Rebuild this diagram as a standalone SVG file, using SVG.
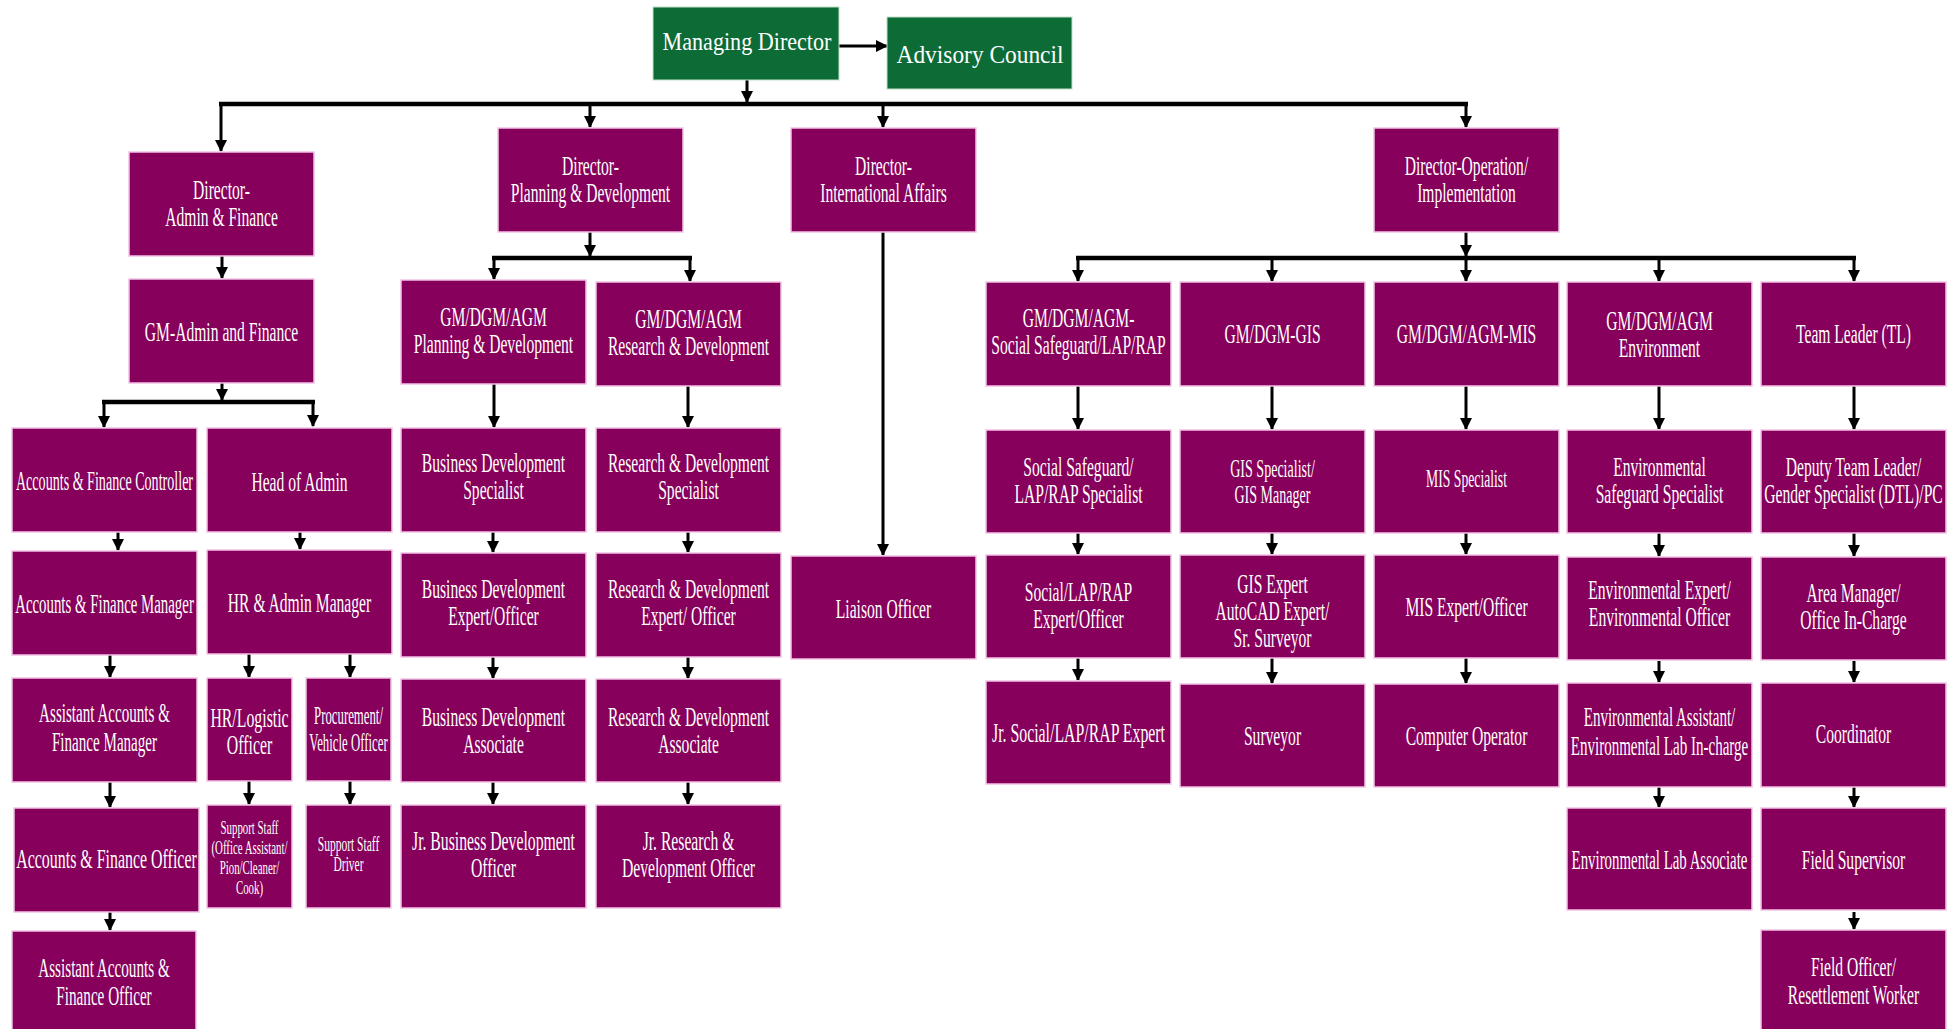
<svg xmlns="http://www.w3.org/2000/svg" width="1959" height="1029" viewBox="0 0 1959 1029">
<style>
.p{fill:#87005c;stroke:#f2c2e6;stroke-width:1.5}
.g{fill:#0d6b36;stroke:#bfe0c8;stroke-width:1}
text{font-family:"Liberation Serif","Times New Roman",serif;fill:#fff;text-anchor:middle;font-size:28px}
.tg{font-size:25px}
.s25{font-size:25px}
.s20{font-size:20px}
.s19{font-size:19px}
.c line{stroke:#000;stroke-width:3;fill:none}
.c line.a{marker-end:url(#ah)}
.c line.bar{stroke-width:4.5}
</style>
<defs>
<marker id="ah" markerUnits="userSpaceOnUse" markerWidth="12" markerHeight="12" viewBox="0 0 12 12" refX="11" refY="6" orient="auto">
<path d="M0,0 L12,6 L0,12 z" fill="#000"/>
</marker>
</defs>
<rect width="1959" height="1029" fill="#fff"/>

<g id="connectors" class="c">
<line class="a" x1="839" y1="46" x2="887" y2="46"/>
<line class="a" x1="747" y1="80" x2="747" y2="102"/>
<line class="bar" x1="219" y1="104" x2="1468" y2="104"/>
<line class="a" x1="221" y1="104" x2="221" y2="151"/>
<line class="a" x1="590" y1="104" x2="590" y2="127"/>
<line class="a" x1="883" y1="104" x2="883" y2="127"/>
<line class="a" x1="1466" y1="104" x2="1466" y2="127"/>
<line class="a" x1="222" y1="256" x2="222" y2="278"/>
<line class="a" x1="222" y1="383" x2="222" y2="400"/>
<line class="bar" x1="102" y1="402" x2="315" y2="402"/>
<line class="a" x1="104" y1="402" x2="104" y2="427"/>
<line class="a" x1="313" y1="402" x2="313" y2="426"/>
<line class="a" x1="590" y1="232" x2="590" y2="256"/>
<line class="bar" x1="492" y1="258" x2="692" y2="258"/>
<line class="a" x1="494" y1="258" x2="494" y2="279"/>
<line class="a" x1="690" y1="258" x2="690" y2="281"/>
<line class="a" x1="494" y1="384" x2="494" y2="427"/>
<line class="a" x1="688" y1="386" x2="688" y2="427"/>
<line class="a" x1="883" y1="232" x2="883" y2="555"/>
<line class="a" x1="1466" y1="232" x2="1466" y2="256"/>
<line class="bar" x1="1076" y1="258" x2="1856" y2="258"/>
<line class="a" x1="1078" y1="258" x2="1078" y2="281"/>
<line class="a" x1="1272" y1="258" x2="1272" y2="281"/>
<line class="a" x1="1466" y1="258" x2="1466" y2="281"/>
<line class="a" x1="1659" y1="258" x2="1659" y2="281"/>
<line class="a" x1="1854" y1="258" x2="1854" y2="281"/>
<line class="a" x1="1078" y1="386" x2="1078" y2="429"/>
<line class="a" x1="1272" y1="386" x2="1272" y2="429"/>
<line class="a" x1="1466" y1="386" x2="1466" y2="429"/>
<line class="a" x1="1659" y1="386" x2="1659" y2="429"/>
<line class="a" x1="1854" y1="386" x2="1854" y2="429"/>
<line class="a" x1="1078" y1="533" x2="1078" y2="554"/>
<line class="a" x1="1272" y1="533" x2="1272" y2="554"/>
<line class="a" x1="1466" y1="533" x2="1466" y2="554"/>
<line class="a" x1="1659" y1="533" x2="1659" y2="556"/>
<line class="a" x1="1854" y1="533" x2="1854" y2="556"/>
<line class="a" x1="1078" y1="658" x2="1078" y2="680"/>
<line class="a" x1="1272" y1="658" x2="1272" y2="683"/>
<line class="a" x1="1466" y1="658" x2="1466" y2="683"/>
<line class="a" x1="1659" y1="661" x2="1659" y2="682"/>
<line class="a" x1="1854" y1="661" x2="1854" y2="682"/>
<line class="a" x1="1659" y1="787" x2="1659" y2="807"/>
<line class="a" x1="1854" y1="787" x2="1854" y2="807"/>
<line class="a" x1="1854" y1="912" x2="1854" y2="929"/>
<line class="a" x1="118" y1="532" x2="118" y2="550"/>
<line class="a" x1="300" y1="532" x2="300" y2="549"/>
<line class="a" x1="493" y1="532" x2="493" y2="552"/>
<line class="a" x1="688" y1="532" x2="688" y2="552"/>
<line class="a" x1="110" y1="655" x2="110" y2="677"/>
<line class="a" x1="249" y1="654" x2="249" y2="677"/>
<line class="a" x1="350" y1="654" x2="350" y2="677"/>
<line class="a" x1="493" y1="657" x2="493" y2="678"/>
<line class="a" x1="688" y1="657" x2="688" y2="678"/>
<line class="a" x1="110" y1="782" x2="110" y2="807"/>
<line class="a" x1="249" y1="781" x2="249" y2="804"/>
<line class="a" x1="350" y1="781" x2="350" y2="804"/>
<line class="a" x1="493" y1="782" x2="493" y2="804"/>
<line class="a" x1="688" y1="782" x2="688" y2="804"/>
<line class="a" x1="110" y1="912" x2="110" y2="930"/>
</g>

<g id="n-md"><rect class="g" x="653" y="7" width="186" height="73"/><text class="tg" transform="translate(747,50) scale(0.885,1)">Managing Director</text></g>
<g id="n-ac"><rect class="g" x="887" y="17" width="185" height="72"/><text class="tg" transform="translate(980,63) scale(0.936,1)">Advisory Council</text></g>

<g id="n-dir-af"><rect class="p" x="129" y="152" width="185" height="104"/><text transform="translate(221.5,199) scale(0.557,1)"><tspan x="0">Director-</tspan><tspan x="0" dy="27">Admin &amp; Finance</tspan></text></g>
<g id="n-dir-pd"><rect class="p" x="498" y="128" width="185" height="104"/><text transform="translate(590.5,175) scale(0.557,1)"><tspan x="0">Director-</tspan><tspan x="0" dy="27">Planning &amp; Development</tspan></text></g>
<g id="n-dir-ia"><rect class="p" x="791" y="128" width="185" height="104"/><text transform="translate(883.5,175) scale(0.557,1)"><tspan x="0">Director-</tspan><tspan x="0" dy="27">International Affairs</tspan></text></g>
<g id="n-dir-op"><rect class="p" x="1374" y="128" width="185" height="104"/><text transform="translate(1466.5,175) scale(0.557,1)"><tspan x="0">Director-Operation/</tspan><tspan x="0" dy="27">Implementation</tspan></text></g>

<g id="n-gm-af"><rect class="p" x="129" y="279" width="185" height="104"/><text transform="translate(221.5,341) scale(0.557,1)">GM-Admin and Finance</text></g>
<g id="n-gm-pd"><rect class="p" x="401" y="280" width="185" height="104"/><text transform="translate(493.5,326) scale(0.557,1)"><tspan x="0">GM/DGM/AGM</tspan><tspan x="0" dy="27">Planning &amp; Development</tspan></text></g>
<g id="n-gm-rd"><rect class="p" x="596" y="282" width="185" height="104"/><text transform="translate(688.5,328) scale(0.557,1)"><tspan x="0">GM/DGM/AGM</tspan><tspan x="0" dy="27">Research &amp; Development</tspan></text></g>
<g id="n-gm-ss"><rect class="p" x="986" y="282" width="185" height="104"/><text transform="translate(1078.5,327) scale(0.557,1)"><tspan x="0">GM/DGM/AGM-</tspan><tspan x="0" dy="27">Social Safeguard/LAP/RAP</tspan></text></g>
<g id="n-gm-gis"><rect class="p" x="1180" y="282" width="185" height="104"/><text transform="translate(1272.5,343) scale(0.557,1)">GM/DGM-GIS</text></g>
<g id="n-gm-mis"><rect class="p" x="1374" y="282" width="185" height="104"/><text transform="translate(1466.5,343) scale(0.557,1)">GM/DGM/AGM-MIS</text></g>
<g id="n-gm-env"><rect class="p" x="1567" y="282" width="185" height="104"/><text transform="translate(1659.5,330) scale(0.557,1)"><tspan x="0">GM/DGM/AGM</tspan><tspan x="0" dy="27">Environment</tspan></text></g>
<g id="n-tl"><rect class="p" x="1761" y="282" width="185" height="104"/><text transform="translate(1853.5,343) scale(0.557,1)">Team Leader (TL)</text></g>

<g id="n-afc"><rect class="p" x="12" y="428" width="185" height="104"/><text transform="translate(104.5,490) scale(0.503,1)">Accounts &amp; Finance Controller</text></g>
<g id="n-hoa"><rect class="p" x="207" y="428" width="185" height="104"/><text transform="translate(299.5,491) scale(0.557,1)">Head of Admin</text></g>
<g id="n-bds"><rect class="p" x="401" y="428" width="185" height="104"/><text transform="translate(493.5,472) scale(0.557,1)"><tspan x="0">Business Development</tspan><tspan x="0" dy="27">Specialist</tspan></text></g>
<g id="n-rds"><rect class="p" x="596" y="428" width="185" height="104"/><text transform="translate(688.5,472) scale(0.557,1)"><tspan x="0">Research &amp; Development</tspan><tspan x="0" dy="27">Specialist</tspan></text></g>
<g id="n-ss-spec"><rect class="p" x="986" y="430" width="185" height="103"/><text transform="translate(1078.5,476) scale(0.557,1)"><tspan x="0">Social Safeguard/</tspan><tspan x="0" dy="27">LAP/RAP Specialist</tspan></text></g>
<g id="n-gis-spec"><rect class="p" x="1180" y="430" width="185" height="103"/><text class="s25" transform="translate(1272.5,477) scale(0.562,1)"><tspan x="0">GIS Specialist/</tspan><tspan x="0" dy="26">GIS Manager</tspan></text></g>
<g id="n-mis-spec"><rect class="p" x="1374" y="430" width="185" height="103"/><text class="s25" transform="translate(1466.5,487) scale(0.548,1)">MIS Specialist</text></g>
<g id="n-env-spec"><rect class="p" x="1567" y="430" width="185" height="103"/><text transform="translate(1659.5,476) scale(0.557,1)"><tspan x="0">Environmental</tspan><tspan x="0" dy="27">Safeguard Specialist</tspan></text></g>
<g id="n-dtl"><rect class="p" x="1761" y="430" width="185" height="103"/><text transform="translate(1853.5,476) scale(0.557,1)"><tspan x="0">Deputy Team Leader/</tspan><tspan x="0" dy="27">Gender Specialist (DTL)/PC</tspan></text></g>

<g id="n-afm"><rect class="p" x="12" y="551" width="185" height="104"/><text transform="translate(104.5,613) scale(0.531,1)">Accounts &amp; Finance Manager</text></g>
<g id="n-hram"><rect class="p" x="207" y="550" width="185" height="104"/><text transform="translate(299.5,612) scale(0.557,1)">HR &amp; Admin Manager</text></g>
<g id="n-bde"><rect class="p" x="401" y="553" width="185" height="104"/><text transform="translate(493.5,598) scale(0.557,1)"><tspan x="0">Business Development</tspan><tspan x="0" dy="27">Expert/Officer</tspan></text></g>
<g id="n-rde"><rect class="p" x="596" y="553" width="185" height="104"/><text transform="translate(688.5,598) scale(0.557,1)"><tspan x="0">Research &amp; Development</tspan><tspan x="0" dy="27">Expert/ Officer</tspan></text></g>
<g id="n-liaison"><rect class="p" x="791" y="556" width="185" height="103"/><text transform="translate(883.5,618) scale(0.557,1)">Liaison Officer</text></g>
<g id="n-ss-exp"><rect class="p" x="986" y="555" width="185" height="103"/><text transform="translate(1078.5,601) scale(0.557,1)"><tspan x="0">Social/LAP/RAP</tspan><tspan x="0" dy="27">Expert/Officer</tspan></text></g>
<g id="n-gis-exp"><rect class="p" x="1180" y="555" width="185" height="103"/><text transform="translate(1272.5,593) scale(0.557,1)"><tspan x="0">GIS Expert</tspan><tspan x="0" dy="27">AutoCAD Expert/</tspan><tspan x="0" dy="27">Sr. Surveyor</tspan></text></g>
<g id="n-mis-exp"><rect class="p" x="1374" y="555" width="185" height="103"/><text transform="translate(1466.5,616) scale(0.557,1)">MIS Expert/Officer</text></g>
<g id="n-env-exp"><rect class="p" x="1567" y="557" width="185" height="103"/><text transform="translate(1659.5,599) scale(0.557,1)"><tspan x="0">Environmental Expert/</tspan><tspan x="0" dy="27">Environmental Officer</tspan></text></g>
<g id="n-am"><rect class="p" x="1761" y="557" width="185" height="103"/><text transform="translate(1853.5,602) scale(0.557,1)"><tspan x="0">Area Manager/</tspan><tspan x="0" dy="27">Office In-Charge</tspan></text></g>

<g id="n-aafm"><rect class="p" x="12" y="678" width="185" height="104"/><text transform="translate(104.5,722) scale(0.539,1)"><tspan x="0">Assistant Accounts &amp;</tspan><tspan x="0" dy="29">Finance Manager</tspan></text></g>
<g id="n-hrl"><rect class="p" x="207" y="678" width="85" height="103"/><text transform="translate(249.5,727) scale(0.565,1)"><tspan x="0">HR/Logistic</tspan><tspan x="0" dy="27">Officer</tspan></text></g>
<g id="n-proc"><rect class="p" x="306" y="678" width="85" height="103"/><text class="s25" transform="translate(348.5,724) scale(0.512,1)"><tspan x="0">Procurement/</tspan><tspan x="0" dy="27">Vehicle Officer</tspan></text></g>
<g id="n-bda"><rect class="p" x="401" y="679" width="185" height="103"/><text transform="translate(493.5,726) scale(0.557,1)"><tspan x="0">Business Development</tspan><tspan x="0" dy="27">Associate</tspan></text></g>
<g id="n-rda"><rect class="p" x="596" y="679" width="185" height="103"/><text transform="translate(688.5,726) scale(0.557,1)"><tspan x="0">Research &amp; Development</tspan><tspan x="0" dy="27">Associate</tspan></text></g>
<g id="n-jr-ss"><rect class="p" x="986" y="681" width="185" height="103"/><text transform="translate(1078.5,742) scale(0.565,1)">Jr. Social/LAP/RAP Expert</text></g>
<g id="n-surveyor"><rect class="p" x="1180" y="684" width="185" height="103"/><text transform="translate(1272.5,745) scale(0.557,1)">Surveyor</text></g>
<g id="n-comp-op"><rect class="p" x="1374" y="684" width="185" height="103"/><text transform="translate(1466.5,745) scale(0.557,1)">Computer Operator</text></g>
<g id="n-env-asst"><rect class="p" x="1567" y="683" width="185" height="104"/><text transform="translate(1659.5,726) scale(0.537,1)"><tspan x="0">Environmental Assistant/</tspan><tspan x="0" dy="29">Environmental Lab In-charge</tspan></text></g>
<g id="n-coord"><rect class="p" x="1761" y="683" width="185" height="104"/><text transform="translate(1853.5,743) scale(0.557,1)">Coordinator</text></g>

<g id="n-afo"><rect class="p" x="14" y="808" width="185" height="104"/><text transform="translate(106.5,868) scale(0.569,1)">Accounts &amp; Finance Officer</text></g>
<g id="n-support"><rect class="p" x="207" y="805" width="85" height="103"/><text class="s19" transform="translate(249.5,834) scale(0.571,1)"><tspan x="0">Support Staff</tspan><tspan x="0" dy="20">(Office Assistant/</tspan><tspan x="0" dy="20">Pion/Cleaner/</tspan><tspan x="0" dy="20">Cook)</tspan></text></g>
<g id="n-driver"><rect class="p" x="306" y="805" width="85" height="103"/><text class="s20" transform="translate(348.5,851) scale(0.576,1)"><tspan x="0">Support Staff</tspan><tspan x="0" dy="20">Driver</tspan></text></g>
<g id="n-jr-bd"><rect class="p" x="401" y="805" width="185" height="103"/><text transform="translate(493.5,850) scale(0.562,1)"><tspan x="0">Jr. Business Development</tspan><tspan x="0" dy="27">Officer</tspan></text></g>
<g id="n-jr-rd"><rect class="p" x="596" y="805" width="185" height="103"/><text transform="translate(688.5,850) scale(0.559,1)"><tspan x="0">Jr. Research &amp;</tspan><tspan x="0" dy="27">Development Officer</tspan></text></g>
<g id="n-env-lab"><rect class="p" x="1567" y="808" width="185" height="102"/><text transform="translate(1659.5,869) scale(0.531,1)">Environmental Lab Associate</text></g>
<g id="n-fs"><rect class="p" x="1761" y="808" width="185" height="102"/><text transform="translate(1853.5,869) scale(0.557,1)">Field Supervisor</text></g>

<g id="n-aafo"><rect class="p" x="12" y="931" width="184" height="104"/><text transform="translate(104,977) scale(0.542,1)"><tspan x="0">Assistant Accounts &amp;</tspan><tspan x="0" dy="28">Finance Officer</tspan></text></g>
<g id="n-fo"><rect class="p" x="1761" y="930" width="185" height="105"/><text transform="translate(1853.5,976) scale(0.557,1)"><tspan x="0">Field Officer/</tspan><tspan x="0" dy="28">Resettlement Worker</tspan></text></g>
</svg>
